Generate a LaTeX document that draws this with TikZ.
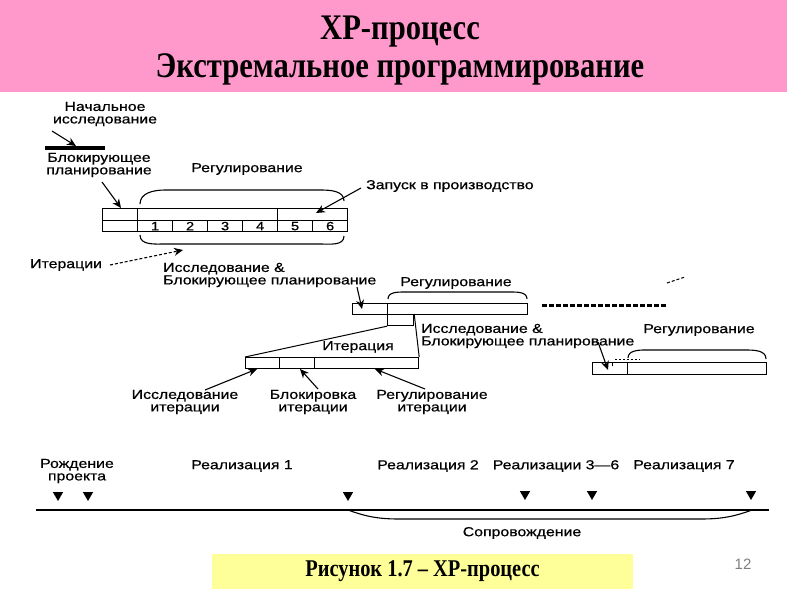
\documentclass[tikz,border=0pt]{standalone}
\usepackage{fontspec}
\setmainfont{Liberation Serif}
\newfontfamily\diag[FakeStretch=1.22,FakeBold=0.6]{Liberation Sans}
\newfontfamily\ttl[FakeStretch=0.85]{Liberation Serif}
\newfontfamily\pgnum{Liberation Sans}
\usetikzlibrary{arrows.meta,shapes.geometric}
\definecolor{hdrpink}{RGB}{255,153,204}
\definecolor{capyellow}{RGB}{255,255,153}
\begin{document}
\begin{tikzpicture}[x=1pt,y=-1pt,
  lbl/.style={inner sep=0pt,align=center,font=\diag\fontsize{13}{12.5}\selectfont},
  lbll/.style={inner sep=0pt,align=left,anchor=west,font=\diag\fontsize{13}{12.5}\selectfont},
  arr/.style={line width=1.1pt,-{Stealth[length=9pt,width=8pt]}},
  cell/.style={draw,line width=1.2pt,inner sep=0pt,anchor=north west,font=\diag\fontsize{12}{12}\selectfont},
  brc/.style={line width=1.1pt},
  tri/.style={regular polygon,regular polygon sides=3,shape border rotate=180,fill=black,inner sep=0pt,minimum size=12pt}]
\useasboundingbox (0,0) rectangle (800,600);
\fill[white] (0,0) rectangle (800,600);
% header
\fill[hdrpink] (0,0) rectangle (787,92);
\node[font=\ttl\bfseries\fontsize{36}{36}\selectfont] (t1) at (400,32) {XP-процесс};
\node[font=\ttl\bfseries\fontsize{36}{36}\selectfont] (t2) at (400,69) {Экстремальное программирование};

% top part
\node[lbl] (nach) at (105,114) {Начальное\\исследование};
\node[fill=black,minimum width=60pt,minimum height=4pt,inner sep=0pt] (bar) at (75,148) {};
\coordinate (a1s) at (52,131);
\coordinate (a1e) at (76,146);
\draw[arr] (a1s) -- (a1e);
\node[lbl] (blok) at (99,165) {Блокирующее\\планирование};

% main box
\node[cell,minimum width=35pt,minimum height=12pt] (L1) at (102,208) {};
\node[cell,minimum width=35pt,minimum height=11pt] (L2) at (102,220) {};
\node[cell,minimum width=140pt,minimum height=12pt] (M1) at (137,208) {};
\node[cell,minimum width=70pt,minimum height=12pt] (R1) at (277,208) {};
\node[cell,minimum width=35pt,minimum height=11pt] (c1) at (137,220) {1};
\node[cell,minimum width=35pt,minimum height=11pt] (c2) at (172,220) {2};
\node[cell,minimum width=35pt,minimum height=11pt] (c3) at (207,220) {3};
\node[cell,minimum width=35pt,minimum height=11pt] (c4) at (242,220) {4};
\node[cell,minimum width=35pt,minimum height=11pt] (c5) at (277,220) {5};
\node[cell,minimum width=35pt,minimum height=11pt] (c6) at (312,220) {6};
\coordinate (a2s) at (102,182);
\coordinate (a2e) at (121,208);
\draw[arr] (a2s) -- (a2e);
\node[lbl] (reg1) at (247,169) {Регулирование};
\draw[brc] (140,204) to[out=90,in=180] (165,190) -- (320,190) to[out=0,in=90] (344,201);
\draw[brc] (140,235) to[out=-90,in=180] (165,244) -- (320,244) to[out=0,in=-90] (344,236);
\node[lbl,anchor=west] (zap) at (366,186) {Запуск в производство};
\coordinate (a3s) at (361,188);
\coordinate (a3e) at (316,213);
\draw[arr] (a3s) -- (a3e);
\node[lbl,anchor=west] (iter) at (30,265) {Итерации};
\coordinate (a4s) at (110,265);
\coordinate (a4e) at (183,250);
\draw[arr,dash pattern=on 3pt off 2pt] (a4s) -- (a4e);

% second level
\node[lbll] (ib1) at (163,275) {Исследование \&\\Блокирующее планирование};
\node[cell,minimum width=35pt,minimum height=11pt] (S1) at (352,303) {};
\node[cell,minimum width=140pt,minimum height=11pt] (S2) at (387,303) {};
\node[cell,minimum width=26pt,minimum height=11pt] (S3) at (387,314) {};
\coordinate (a5s) at (357,287);
\coordinate (a5e) at (362,309);
\draw[arr] (a5s) -- (a5e);
\node[lbl] (reg2) at (456,283) {Регулирование};
\draw[brc] (388,299) to[out=90,in=180] (405,292) -- (510,292) to[out=0,in=90] (527,299);
\draw[line width=3pt,dash pattern=on 5pt off 2pt] (542,305) -- (667,305);
\draw[line width=1pt,dash pattern=on 3pt off 2pt] (667,283) -- (685,277);

% iteration box
\node[cell,minimum width=34pt,minimum height=11pt] (I1) at (245,357) {};
\node[cell,minimum width=35pt,minimum height=11pt] (I2) at (279,357) {};
\node[cell,minimum width=104pt,minimum height=11pt] (I3) at (314,357) {};
\draw[line width=1pt] (S3.south west) -- (I1.north west);
\draw[line width=1pt] (S3.north east) -- (I3.north east);
\node[lbl] (itn) at (358,347) {Итерация};

% right group
\node[lbll] (ib2) at (421,336) {Исследование \&\\Блокирующее планирование};
\node[lbl] (reg3) at (699,330) {Регулирование};
\node[cell,minimum width=35pt,minimum height=12pt] (Q1) at (592,362) {};
\node[cell,minimum width=139pt,minimum height=12pt] (Q2) at (627,362) {};
\draw[line width=0.8pt] (612,362) -- (612,366);
\coordinate (a6s) at (598,342);
\coordinate (a6e) at (608,370);
\draw[arr] (a6s) -- (a6e);
\draw[brc] (628,358) to[out=90,in=180] (645,350) -- (745,350) to[out=0,in=90] (766,359);
\draw[line width=0.8pt,dash pattern=on 2pt off 2pt] (615,359) -- (640,359);

% iteration labels
\node[lbl] (lb1) at (185,402) {Исследование\\итерации};
\node[lbl] (lb2) at (313,402) {Блокировка\\итерации};
\node[lbl] (lb3) at (432,402) {Регулирование\\итерации};
\coordinate (b1s) at (205,390);
\coordinate (b2s) at (318,389);
\coordinate (b3s) at (425,389);
\coordinate (b1e) at (257,369);
\coordinate (b2e) at (300,369);
\coordinate (b3e) at (375,369);
\draw[arr] (b1s) -- (b1e);
\draw[arr] (b2s) -- (b2e);
\draw[arr] (b3s) -- (b3e);

% timeline
\coordinate (tl0) at (36,510);
\coordinate (tl1) at (769,510);
\draw[line width=1.2pt] (tl0) -- (tl1);
\node[lbl] (rozh) at (77,471) {Рождение\\проекта};
\node[lbl] (r1) at (242,466) {Реализация 1};
\node[lbl] (r2) at (428,466) {Реализация 2};
\node[lbl] (r36) at (556,466) {Реализации 3—6};
\node[lbl] (r7) at (684,466) {Реализация 7};
\node[tri] (m1) at (58,495) {};
\node[tri] (m2) at (88,495) {};
\node[tri] (m3) at (348,495) {};
\node[tri] (m4) at (525,494) {};
\node[tri] (m5) at (592,494) {};
\node[tri] (m6) at (751,494) {};
\draw[brc] (348,510) to[out=-20,in=180] (400,519) -- (700,519) to[out=0,in=-160] (752,510);
\node[lbl] (sopr) at (522,533) {Сопровождение};

% caption
\node[fill=capyellow,minimum width=421pt,minimum height=35pt,inner sep=0pt] (capbox) at (422.5,571) {};
\node[font=\ttl\bfseries\fontsize{24}{24}\selectfont] (cap) at (capbox.center) {Рисунок 1.7 – XP-процесс};
\node[font=\pgnum\fontsize{15}{15}\selectfont,text=gray] (pg) at (743,564) {12};
\end{tikzpicture}
\end{document}
